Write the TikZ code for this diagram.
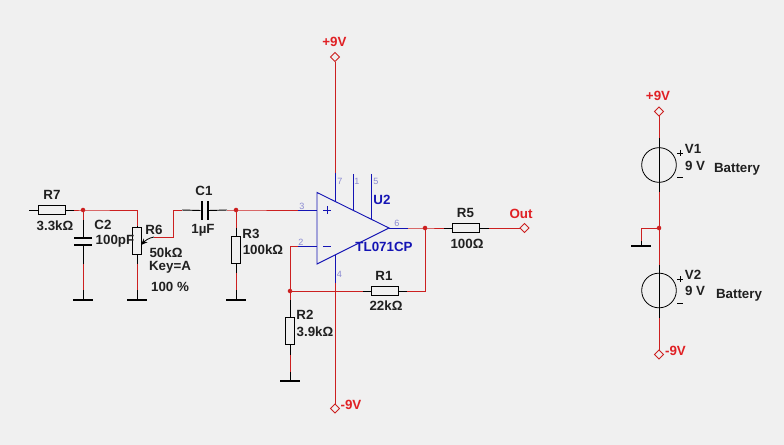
\documentclass[tikz,border=0pt]{standalone}
\usepackage{fontspec}
\setmainfont{Liberation Sans}
\usetikzlibrary{shapes.geometric,arrows.meta}
\definecolor{bgc}{HTML}{F0F0F0}
\definecolor{wirec}{HTML}{CC2020}
\definecolor{labc}{HTML}{E02024}
\definecolor{pinc}{HTML}{1414B4}
\definecolor{numc}{HTML}{8A8AD2}
\definecolor{txtc}{HTML}{202020}
\tikzset{
  x=0.75pt,y=-0.75pt,
  wire/.style={draw=wirec,line width=0.7pt},
  lead/.style={draw=black,line width=0.7pt},
  pinw/.style={draw=pinc,line width=0.7pt},
  hres/.style={draw=black,fill=bgc,line width=0.7pt,minimum width=20.2pt,minimum height=6.8pt,inner sep=0pt,outer sep=0pt},
  vres/.style={draw=black,fill=bgc,line width=0.7pt,minimum width=6.8pt,minimum height=20.2pt,inner sep=0pt,outer sep=0pt},
  gnd/.style={fill=black,minimum width=14.4pt,minimum height=1.5pt,inner sep=0pt,outer sep=0pt},
  port/.style={diamond,draw=wirec,line width=0.6pt,fill=bgc,minimum width=6.8pt,minimum height=6.8pt,inner sep=0pt,outer sep=0pt},
  dotn/.style={circle,fill=wirec,minimum size=3.4pt,inner sep=0pt,outer sep=0pt},
  plate/.style={fill=black,inner sep=0pt,outer sep=0pt},
  batt/.style={circle,draw=black,line width=0.6pt,minimum size=26pt,inner sep=0pt,outer sep=0pt},
  lab/.style={font=\bfseries\fontsize{10}{12}\selectfont,text=txtc,inner sep=0pt,yshift=-0.5pt},
  rlab/.style={font=\bfseries\fontsize{10}{12}\selectfont,text=labc,inner sep=0pt,yshift=-0.5pt},
  blab/.style={font=\bfseries\fontsize{10}{12}\selectfont,text=pinc,inner sep=0pt,yshift=-0.5pt},
  nlab/.style={font=\fontsize{6.8}{8}\selectfont,text=numc,inner sep=0pt},
}
\begin{document}
\begin{tikzpicture}
\useasboundingbox (0,0) rectangle (784,445);
\fill[bgc] (0,0) rectangle (784,445);

% free ends and wire corners
\coordinate (in) at (29,210);
\coordinate (j1) at (83,210);
\coordinate (c6t) at (137,210);
\coordinate (wip) at (141,245);
\coordinate (wipb) at (154,237);
\coordinate (wipc) at (173,237);
\coordinate (wipd) at (173,210);
\coordinate (j2) at (236,210);
\coordinate (p3) at (317,210);
\coordinate (p2) at (317,246);
\coordinate (p2c) at (290,246);
\coordinate (j3) at (290,291);
\coordinate (j4) at (425,228);
\coordinate (tip) at (389,228);
\coordinate (r1c) at (425,291);

% components
\node[hres] (R7) at (51.5,210) {};
\node[hres] (R5) at (465.5,228) {};
\node[hres] (R1) at (384.5,291) {};
\node[vres] (R6) at (137,241) {};
\node[vres] (R3) at (236,250) {};
\node[vres] (R2) at (290,331) {};
\node[gnd] (g2) at (83,300) {};
\node[gnd] (g6) at (137,300) {};
\node[gnd] (g3) at (236,300) {};
\node[gnd] (gR2) at (290,381) {};
\node[gnd] (gB) at (641,245.7) {};
\node[port] (pU) at (335,57) {};
\node[port] (pD) at (335,408.5) {};
\node[port] (pO) at (524.5,228) {};
\node[port] (pU2) at (659,111.5) {};
\node[port] (pD2) at (659,354.5) {};
\node[batt] (V1) at (659,165) {};
\node[batt] (V2) at (659,290.5) {};
\node[plate,minimum width=14.2pt,minimum height=1.5pt] (C2t) at (83,238) {};
\node[plate,minimum width=14.2pt,minimum height=1.5pt] (C2b) at (83,245) {};
\node[plate,minimum width=1.5pt,minimum height=14.2pt] (C1l) at (201.5,210.5) {};
\node[plate,minimum width=1.5pt,minimum height=14.2pt] (C1r) at (208,210.5) {};

% input network
\draw[lead] (in) -- (R7.west);
\draw[lead] (R7.east) -- (74,210);
\draw[wire] (74,210) -- (j1) -- (c6t) -- (137,226);
\draw[lead] (137,226) -- (R6.north);
\draw[wire] (j1) -- (83,220);
\draw[lead] (83,220) -- (C2t.north);
\draw[lead] (C2b.south) -- (83,264);
\draw[wire] (83,264) -- (83,290);
\draw[lead] (83,290) -- (g2.north);
\draw[lead] (R6.south) -- (137,264);
\draw[wire] (137,264) -- (137,290);
\draw[lead] (137,290) -- (g6.north);
\draw[lead,-{Stealth[length=5pt,width=4pt]},line width=0.6pt] (wipb) .. controls (148,238) and (145,241) .. (wip);
\draw[wire] (wipb) -- (wipc) -- (wipd) -- (182,210);
\draw[lead] (182,210) -- (C1l.west);
\draw[lead] (C1r.east) -- (227,210);
\draw[wire] (227,210) -- (j2) -- (298,210);
\draw[pinw] (298,210) -- (p3);
\draw[wire] (j2) -- (236,228);
\draw[lead] (236,228) -- (R3.north);
\draw[lead] (R3.south) -- (236,273);
\draw[wire] (236,273) -- (236,290);
\draw[lead] (236,290) -- (g3.north);

% op amp
\draw[pinc,line width=0.7pt,fill=none] (317,192.5) coordinate (ta) -- (317,264) coordinate (tb) -- (tip) -- cycle;
\draw[pinw] (335,173) -- (335,201.5);
\draw[pinw] (353,174) -- (353,210.5);
\draw[pinw] (371,174) -- (371,219.5);
\draw[pinw] (335,255) -- (335,283);
\draw[pinw] (p2) -- (298,246);
\draw[pinw] (tip) -- (408,228);
\draw[wire] (pU.south) -- (335,173);
\draw[wire] (335,283) -- (pD.north);

% feedback and output
\draw[wire] (298,246) -- (p2c) -- (j3) -- (363,291);
\draw[lead] (363,291) -- (R1.west);
\draw[lead] (R1.east) -- (407,291);
\draw[wire] (407,291) -- (r1c) -- (j4);
\draw[wire] (408,228) -- (j4) -- (444,228);
\draw[lead] (444,228) -- (R5.west);
\draw[lead] (R5.east) -- (489,228);
\draw[wire] (489,228) -- (pO.west);
\draw[wire] (j3) -- (290,300);
\draw[lead] (290,300) -- (R2.north);
\draw[lead] (R2.south) -- (290,355);
\draw[wire] (290,355) -- (290,372);
\draw[lead] (290,372) -- (gR2.north);

% batteries
\coordinate (j5) at (659,228);
\draw[wire] (pU2.south) -- (659,138);
\draw[lead] (659,138) -- (659,192);
\draw[wire] (659,192) -- (j5) -- (659,265);
\draw[wire] (j5) -- (641,228) -- (641,241);
\draw[lead] (641,241) -- (gB.north);
\draw[lead] (659,265) -- (659,318);
\draw[wire] (659,318) -- (pD2.north);

% junctions
\foreach \n in {j1,j2,j3,j4,j5} \node[dotn] at (\n) {};

% labels
\node[lab] (tR7) at (52,194) {R7};
\node[lab] (vR7) at (55,225) {3.3kΩ};
\node[lab] (tC2) at (103,224.5) {C2};
\node[lab] (vC2) at (115,241) {100pF};
\node[lab] (tR6) at (154,229) {R6};
\node[lab] (vR6) at (166,252) {50kΩ};
\node[lab] (kR6) at (170,267) {Key=A};
\node[lab] (pR6) at (170,286) {100 \%};
\node[lab] (tC1) at (204,190) {C1};
\node[lab] (vC1) at (203,230) {1µF};
\node[lab] (tR3) at (251,233) {R3};
\node[lab] (vR3) at (263,249) {100kΩ};
\node[lab] (tR5) at (465.5,212) {R5};
\node[lab] (vR5) at (467,243) {100Ω};
\node[lab] (tR1) at (384,275.5) {R1};
\node[lab] (vR1) at (386,305) {22kΩ};
\node[lab] (tR2) at (305,314) {R2};
\node[lab] (vR2) at (315,331) {3.9kΩ};
\node[blab] (tU) at (382,199) {U2};
\node[blab] (vU) at (384,246) {TL071CP};
\node[rlab] (tO) at (521,213) {Out};
\node[rlab] (tP) at (334.5,41) {+9V};
\node[rlab] (tM) at (351,404) {-9V};
\node[rlab] (tP2) at (658,95) {+9V};
\node[rlab] (tM2) at (675.5,350) {-9V};
\node[lab] (tV1) at (693,148) {V1};
\node[lab] (vV1) at (695,165) {9 V};
\node[lab] (bV1) at (737,169) {Battery};
\node[lab] (tV2) at (693,274) {V2};
\node[lab] (vV2) at (695,290) {9 V};
\node[lab] (bV2) at (739,295) {Battery};

\node[nlab] (n7) at (340,181) {7};
\node[nlab] (n1) at (357,181) {1};
\node[nlab] (n5) at (376,181) {5};
\node[nlab] (n3) at (302,206) {3};
\node[nlab] (n2) at (301,242) {2};
\node[nlab] (n6) at (397,223.5) {6};
\node[nlab] (n4) at (339.5,274) {4};

% polarity signs
\draw[pinw] (323,210) -- (331,210) (327,206) -- (327,214);
\draw[pinw] (323,246) -- (331,246);
\draw[lead,line width=0.6pt] (677,153) -- (683,153) (680,150) -- (680,156);
\draw[lead,line width=0.6pt] (677,177.5) -- (683,177.5);
\draw[lead,line width=0.6pt] (677,279) -- (683,279) (680,276) -- (680,282);
\draw[lead,line width=0.6pt] (677,303) -- (683,303);
\end{tikzpicture}
\end{document}
